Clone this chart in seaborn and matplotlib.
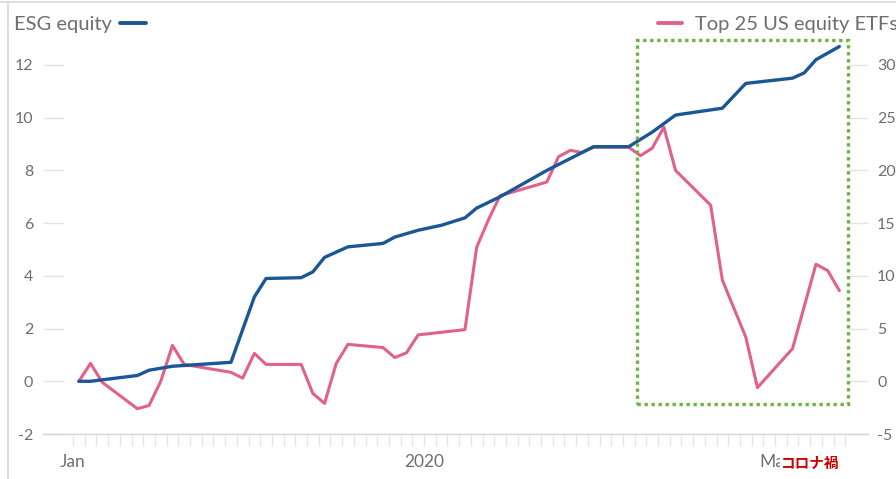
import numpy as np
import pandas as pd
import matplotlib
matplotlib.use("Agg")
import matplotlib.pyplot as plt
import seaborn as sns
from matplotlib.patches import Rectangle
from matplotlib.lines import Line2D
import matplotlib.transforms as mtransforms

# Cumulative flows, $bn, by calendar day counted from 1 January
esg_day = [0, 1, 5, 6, 8, 13, 15, 16, 19, 20, 21, 23, 26, 27, 29, 31, 33, 34,
           36, 38, 40, 42, 44, 47, 49, 51, 55, 57, 61, 62, 63, 65]
esg_flow = [0.0, 0.0, 0.22, 0.42, 0.57, 0.72, 3.2, 3.9, 3.93, 4.15, 4.7, 5.1,
            5.23, 5.47, 5.73, 5.92, 6.2, 6.57, 7.0, 7.5, 8.0, 8.45, 8.9, 8.9,
            9.45, 10.1, 10.36, 11.3, 11.5, 11.7, 12.2, 12.7]

etf_day = [0, 1, 2, 5, 6, 7, 8, 9, 13, 14, 15, 16, 19, 20, 21, 22, 23, 26, 27,
           28, 29, 33, 34, 35, 36, 40, 41, 42, 43, 44, 47, 48, 49, 50, 51, 54,
           55, 57, 58, 61, 63, 64, 65]
etf_flow = [0.0, 1.7, -0.1, -2.6, -2.3, 0.0, 3.4, 1.6, 0.85, 0.3, 2.65, 1.6,
            1.6, -1.15, -2.1, 1.7, 3.5, 3.2, 2.25, 2.7, 4.4, 4.9, 12.7, 15.3,
            17.6, 18.9, 21.3, 21.9, 21.7, 22.2, 22.2, 21.4, 22.1, 24.1, 20.0,
            16.7, 9.6, 4.2, -0.6, 3.1, 11.1, 10.5, 8.6]

esg_ticks = [-2, 0, 2, 4, 6, 8, 10, 12]
etf_ticks = [-5, 0, 5, 10, 15, 20, 25, 30]
date_tick_days = [0, 30, 60]
date_tick_labels = ["Jan", "2020", "Mar"]
covid_label = "コロナ禍"

BLUE = "#1b5796"
PINK = "#e2608c"
GREEN = "#6cb33f"
TEXT = "#6e6e6e"
RULE = "#d6d6d6"

sns.set_theme(style="white")
plt.rcParams["font.family"] = ["Lato", "DejaVu Sans"]

fig = plt.figure(figsize=(8.96, 4.79), dpi=100)
W, H = 896, 479
ax = fig.add_axes([43 / W, (H - 434) / H, 825 / W, 403.3 / H])
ax2 = ax.twinx()

esg = pd.DataFrame({"day": np.array(esg_day) + 0.5, "flow": esg_flow})
etf = pd.DataFrame({"day": np.array(etf_day) + 0.5, "flow": etf_flow})

sns.lineplot(data=etf, x="day", y="flow", ax=ax2, color=PINK, lw=2.2,
             solid_joinstyle="round", solid_capstyle="round")
sns.lineplot(data=esg, x="day", y="flow", ax=ax, color=BLUE, lw=2.4,
             solid_joinstyle="round", solid_capstyle="round")

# keep the ESG line above the ETF line
ax.set_zorder(ax2.get_zorder() + 1)
ax.patch.set_visible(False)

px_per_day = 11.7
ax.set_xlim(-30 / px_per_day, (868 - 73) / px_per_day)
ax.set_ylim(-2, 13.3)
ax2.set_ylim(-5, 13.3 * 2.5)

for a in (ax, ax2):
    a.set_xlabel("")
    a.set_ylabel("")
    for s in ("top", "left", "right", "bottom"):
        a.spines[s].set_visible(False)
    a.grid(False)

ax.spines["bottom"].set_visible(True)
ax.spines["bottom"].set_color(RULE)
ax.spines["bottom"].set_linewidth(1.0)

ax.set_yticks(esg_ticks)
ax.set_yticklabels([str(t) for t in esg_ticks])
ax.tick_params(axis="y", direction="in", length=15, width=1.0, color="#e3e3e3",
               pad=7, labelsize=11.5, labelcolor=TEXT, left=True)
ax2.set_yticks(etf_ticks)
ax2.set_yticklabels([str(t) for t in etf_ticks])
ax2.tick_params(axis="y", direction="in", length=14, width=1.0, color="#e3e3e3",
                pad=6.5, labelsize=11.5, labelcolor=TEXT, right=True)

ax.set_xticks(date_tick_days)
ax.set_xticklabels(date_tick_labels)
ax.set_xticks(np.arange(0, 67), minor=True)
ax.tick_params(axis="x", which="both", direction="out", length=8.5, width=1.0,
               color="#e6e6e6", pad=6, labelsize=12.5, labelcolor=TEXT, bottom=True)

# coronavirus period box
ax.add_patch(Rectangle((48.2, -0.87), 66.24 - 48.2, 12.94 + 0.87, fill=False,
                       edgecolor=GREEN, lw=2.4, linestyle=(0, (1, 1.1)),
                       capstyle="butt", zorder=5, clip_on=False))

trans = mtransforms.blended_transform_factory(ax.transData, ax.transAxes)
ax.text(63.0, -0.072, covid_label, transform=trans, ha="center", va="center",
        fontsize=10.5, fontweight="bold", color="#cc0000",
        family=["Noto Sans CJK JP", "DejaVu Sans"],
        bbox=dict(facecolor="white", edgecolor="none", pad=0.3), zorder=10)

# series keys along the top
fig.legend(handles=[Line2D([], [], color=BLUE, lw=2.8)], labels=["ESG equity"],
           loc="upper left", bbox_to_anchor=(14 / W, 1 - 16 / H), frameon=False,
           markerfirst=False, handlelength=1.3, handletextpad=0.4,
           borderpad=0, borderaxespad=0, fontsize=14.5, labelcolor=TEXT)
fig.legend(handles=[Line2D([], [], color=PINK, lw=2.8)],
           labels=["Top 25 US equity ETFs"],
           loc="upper left", bbox_to_anchor=(658 / W, 1 - 16 / H), frameon=False,
           markerfirst=True, handlelength=1.2, handletextpad=0.65,
           borderpad=0, borderaxespad=0, fontsize=14.5, labelcolor=TEXT)

# thin frame at top and left
fig.add_artist(Line2D([0, 1], [1 - 2 / H, 1 - 2 / H], transform=fig.transFigure,
                      color="#d9d9d9", lw=1.2))
fig.add_artist(Line2D([8 / W, 8 / W], [0, 1 - 2 / H], transform=fig.transFigure,
                      color="#d9d9d9", lw=1.2))

fig.savefig("out.png", dpi=100)
